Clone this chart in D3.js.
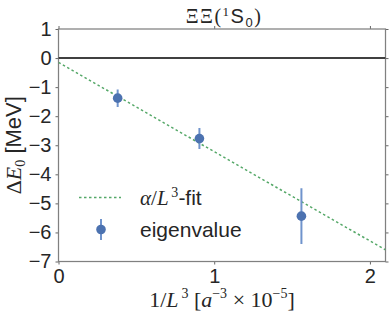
<!DOCTYPE html>
<html>
<head>
<meta charset="utf-8">
<script src="https://cdn.jsdelivr.net/npm/d3@7"></script>
<style>
  body { margin: 0; background: #fff; }
  text { fill: #262626; }
</style>
</head>
<body>
<div id="plot_div"></div>
<script>
const width  = 390;
const height = 320;
var margin = {top: 29, right: 4, bottom: 58.5, left: 58.5}

// data
const invL3    = [0.38, 0.905, 1.56]      // 1/L^3 [a^-3 x 10^-5]
const dE       = [-1.38, -2.77, -5.44]    // Delta E_0 [MeV]
const dEerr    = [0.30, 0.36, 0.96]
const fitX     = [0, 2.1]
const fitY     = [-0.15, -6.6]
const xTicks   = [0, 1, 2]
const yTicks   = [1, 0, -1, -2, -3, -4, -5, -6, -7]

const blue  = "#4C72B0"
const green = "#55A868"
const serif = "'Liberation Serif', 'DejaVu Serif', serif"
const sans  = "'Liberation Sans', Arial, sans-serif"

const svg = d3.create("svg")
      .attr("width", width)
      .attr("height", height)
      .attr("viewBox", [0, 0, width, height])

const x = d3.scaleLinear()
      .domain([0, 2.1])
      .range([margin.left, width - margin.right - 0.5]);

const y = d3.scaleLinear()
      .domain([-7, 1])
      .range([height - margin.bottom, margin.top]);

svg.append("clipPath").attr("id", "clip")
    .append("rect")
    .attr("x", x.range()[0]).attr("y", y.range()[1])
    .attr("width", x.range()[1] - x.range()[0])
    .attr("height", y.range()[0] - y.range()[1])

// axes (small outward ticks, grey frame)
function styleAxis(g){
    g.select(".domain").remove()
    g.selectAll(".tick line").attr("stroke", "#666")
    g.selectAll(".tick text")
        .attr("font-family", sans)
        .attr("font-size", 20)
        .attr("fill", "#262626")
}

svg.append("g")
    .attr("transform", `translate(0,${y.range()[0]})`)
    .call(d3.axisBottom(x).tickValues(xTicks).tickFormat(d3.format("d")).tickSize(3).tickPadding(4))
    .call(styleAxis)

svg.append("g")
    .attr("transform", `translate(0,${y.range()[1]})`)
    .call(d3.axisTop(x).tickValues(xTicks).tickFormat("").tickSize(3))
    .call(styleAxis)

svg.append("g")
    .attr("transform", `translate(${x.range()[0]},0)`)
    .call(d3.axisLeft(y).tickValues(yTicks).tickFormat(d => d < 0 ? "\u2212" + Math.abs(d) : d).tickSize(3).tickPadding(4))
    .call(styleAxis)

svg.append("g")
    .attr("transform", `translate(${x.range()[1]},0)`)
    .call(d3.axisRight(y).tickValues(yTicks).tickFormat("").tickSize(3))
    .call(styleAxis)

svg.append("rect")
    .attr("x", x.range()[0]).attr("y", y.range()[1])
    .attr("width", x.range()[1] - x.range()[0])
    .attr("height", y.range()[0] - y.range()[1])
    .attr("fill", "none")
    .attr("stroke", "#808080")
    .attr("stroke-width", 1.25)

const plot = svg.append("g").attr("clip-path", "url(#clip)")

// zero line
plot.append("line")
    .attr("x1", x.range()[0]).attr("x2", x.range()[1])
    .attr("y1", y(0)).attr("y2", y(0))
    .attr("stroke", "#000")
    .attr("stroke-width", 1.5)

// fit line
plot.append("path")
    .datum(d3.zip(fitX, fitY))
    .attr("d", d3.line().x(d => x(d[0])).y(d => y(d[1])))
    .attr("fill", "none")
    .attr("stroke", green)
    .attr("stroke-width", 1.5)
    .attr("stroke-dasharray", "2.5,2.5")

// error bars + points
const pts = d3.range(invL3.length)
plot.selectAll("line.err").data(pts).join("line")
    .attr("class", "err")
    .attr("x1", i => x(invL3[i])).attr("x2", i => x(invL3[i]))
    .attr("y1", i => y(dE[i] + dEerr[i])).attr("y2", i => y(dE[i] - dEerr[i]))
    .attr("stroke", "#6f93cc")
    .attr("stroke-width", 2)

plot.selectAll("circle.pt").data(pts).join("circle")
    .attr("class", "pt")
    .attr("cx", i => x(invL3[i]))
    .attr("cy", i => y(dE[i]))
    .attr("r", 4.8)
    .attr("fill", blue)

// title
const title = svg.append("text")
    .attr("x", (x.range()[0] + x.range()[1]) / 2 + 2)
    .attr("y", 23)
    .attr("text-anchor", "middle")
    .attr("font-size", 20)
    .attr("letter-spacing", 1.5)
title.append("tspan").attr("font-family", serif).text("\u039E\u039E(")
title.append("tspan").attr("font-family", serif).attr("font-size", 13).attr("dy", -7).text("1")
title.append("tspan").attr("font-family", sans).attr("dy", 7).text("S")
title.append("tspan").attr("font-family", sans).attr("font-size", 13).attr("dy", 4).text("0")
title.append("tspan").attr("font-family", serif).attr("dy", -4).text(")")

// y label
const ylab = svg.append("text")
    .attr("transform", `translate(21,${(y.range()[0] + y.range()[1]) / 2}) rotate(-90)`)
    .attr("text-anchor", "middle")
    .attr("font-size", 22)
ylab.append("tspan").attr("font-family", serif).text("\u0394")
ylab.append("tspan").attr("font-family", serif).attr("font-style", "italic").text("E")
ylab.append("tspan").attr("font-family", serif).attr("font-size", 14).attr("dy", 4).text("0")
ylab.append("tspan").attr("font-family", sans).attr("dy", -4).text(" [MeV]")

// x label
const xlab = svg.append("text")
    .attr("x", (x.range()[0] + x.range()[1]) / 2)
    .attr("y", 307)
    .attr("text-anchor", "middle")
    .attr("font-family", serif)
    .attr("font-size", 22)
xlab.append("tspan").text("1/")
xlab.append("tspan").attr("font-style", "italic").text("L")
xlab.append("tspan").attr("font-size", 14).attr("dy", -9).text("\u20093")
xlab.append("tspan").attr("dy", 9).text("  [")
xlab.append("tspan").attr("font-style", "italic").text("a")
xlab.append("tspan").attr("font-size", 14).attr("dy", -9).text("\u22123")
xlab.append("tspan").attr("dy", 9).text(" \u00D7 10")
xlab.append("tspan").attr("font-size", 14).attr("dy", -9).text("\u22125")
xlab.append("tspan").attr("dy", 9).text("]")

// legend
const lg = svg.append("g")
lg.append("line")
    .attr("x1", 79).attr("x2", 121).attr("y1", 197.5).attr("y2", 197.5)
    .attr("stroke", green).attr("stroke-width", 1.5).attr("stroke-dasharray", "2.5,2.5")
const l1 = lg.append("text").attr("x", 140).attr("y", 205).attr("font-size", 21)
l1.append("tspan").attr("font-family", serif).attr("font-style", "italic").text("\u03B1")
l1.append("tspan").attr("font-family", serif).text("/")
l1.append("tspan").attr("font-family", serif).attr("font-style", "italic").text("L")
l1.append("tspan").attr("font-family", serif).attr("font-size", 14).attr("dy", -8).text("\u20093")
l1.append("tspan").attr("font-family", sans).attr("dy", 8).text("-fit")

lg.append("line")
    .attr("x1", 101).attr("x2", 101).attr("y1", 219).attr("y2", 240)
    .attr("stroke", "#6f93cc").attr("stroke-width", 2)
lg.append("circle").attr("cx", 101).attr("cy", 229.5).attr("r", 4.8).attr("fill", blue)
lg.append("text").attr("x", 140).attr("y", 236.5)
    .attr("font-family", sans).attr("font-size", 21).text("eigenvalue")

plot_div.append(svg.node());
</script>
</body>
</html>
